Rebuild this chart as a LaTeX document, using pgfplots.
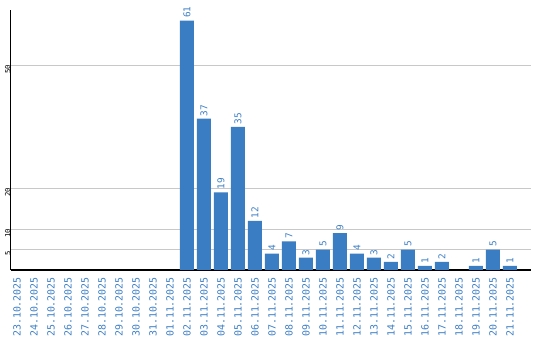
\documentclass[border=0pt]{standalone}
\usepackage{pgfplots}
\pgfplotsset{compat=1.18}
\usepackage{fontspec}
\setmainfont{DejaVu Sans Mono}
\definecolor{barc}{HTML}{3B7DC3}
\definecolor{txtc}{HTML}{3D7FC6}
\definecolor{gridc}{HTML}{C8C8C8}
\begin{document}
\begin{tikzpicture}
\path[use as bounding box] (0,0) rectangle (540bp,340bp);
\begin{axis}[
  at={(10.7bp,70bp)}, anchor=south west,
  scale only axis,
  width=520.3bp, height=260bp,
  xmin=-0.37, xmax=30.24,
  ymin=0, ymax=63.6,
  axis lines*=left,
  axis line style={black, line width=1.3bp},
  ytick={5,10,20,50},
  ymajorgrids,
  grid style={gridc, line width=1bp},
  major tick length=0pt,
  xtick={0,...,29},
  xticklabels={23.10.2025,24.10.2025,25.10.2025,26.10.2025,27.10.2025,28.10.2025,29.10.2025,30.10.2025,31.10.2025,01.11.2025,02.11.2025,03.11.2025,04.11.2025,05.11.2025,06.11.2025,07.11.2025,08.11.2025,09.11.2025,10.11.2025,11.11.2025,12.11.2025,13.11.2025,14.11.2025,15.11.2025,16.11.2025,17.11.2025,18.11.2025,19.11.2025,20.11.2025,21.11.2025},
  xticklabel style={rotate=90, anchor=east, inner sep=0pt, xshift=-7bp, font=\fontsize{9.9bp}{10bp}\selectfont, text=txtc},
  yticklabel style={rotate=90, anchor=south, inner sep=0pt, xshift=-4bp, font=\fontsize{7.2bp}{8bp}\selectfont, text=black},
  /pgf/number format/assume math mode=true,
  ybar, bar width=14bp,
  nodes near coords,
  every node near coord/.append style={rotate=90, anchor=west, inner sep=2.5bp, font=\fontsize{9.4bp}{10bp}\selectfont, text=txtc},
]
\addplot[fill=barc, draw=none] coordinates {
(10,61) (11,37) (12,19) (13,35) (14,12) (15,4) (16,7) (17,3) (18,5) (19,9)
(20,4) (21,3) (22,2) (23,5) (24,1) (25,2) (27,1) (28,5) (29,1)
};
\end{axis}
\end{tikzpicture}
\end{document}
